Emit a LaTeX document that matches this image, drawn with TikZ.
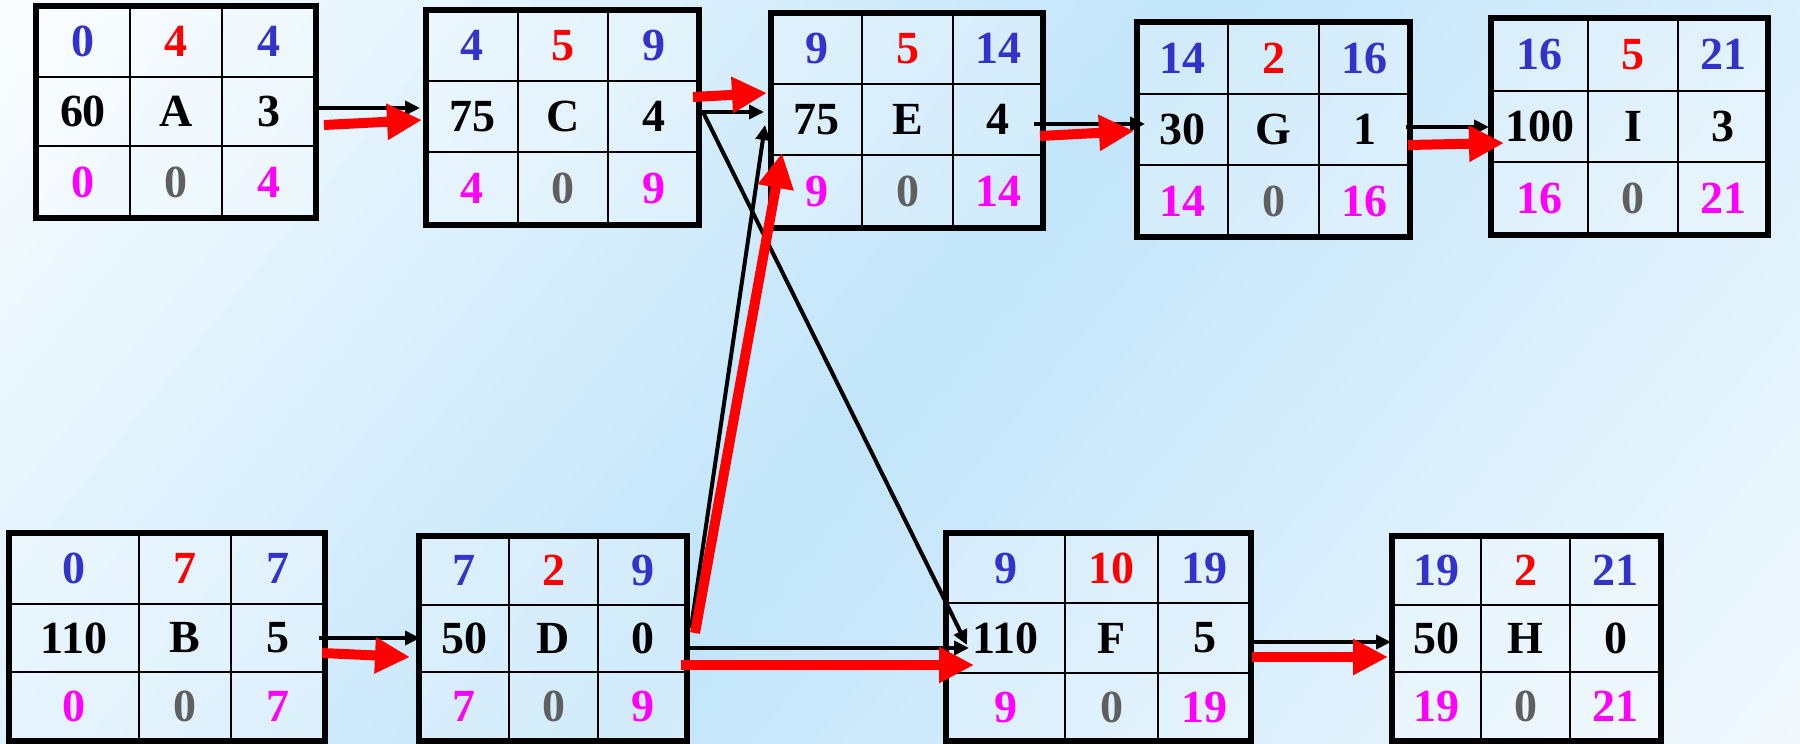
\documentclass[tikz,border=0pt]{standalone}
\usepackage{fontspec}
\setmainfont{Liberation Serif}
\usetikzlibrary{arrows.meta,calc,fit}
\definecolor{nblue}{HTML}{3333CC}
\definecolor{nred}{HTML}{FF0000}
\definecolor{nmag}{HTML}{FF00FF}
\definecolor{ngray}{HTML}{5F5F5F}
\definecolor{bgL}{HTML}{FAFDFF}
\definecolor{bgM}{HTML}{C2E5FA}
\definecolor{bgR}{HTML}{F2F9FE}
\tikzset{
 frame/.style={draw=black, line width=3pt, inner sep=0pt},
 gridln/.style={draw=black, line width=1.3pt},
 cellfill/.style={fill=white, fill opacity=0.25},
 num/.style={font=\fontsize{23}{25}\selectfont\bfseries, inner sep=0pt},
 blk/.style={draw=black, line width=2pt, -{Triangle[length=7.5pt,width=7pt]}},
 crit/.style={draw=nred, line width=5pt, -{Triangle[length=17.5pt,width=17pt]}},
}
\newcommand{\actbox}[9]{%
  \fill[cellfill] (#2,#6) rectangle (#5,#9);
  \draw[gridln] (#3,#6) -- (#3,#9) (#4,#6) -- (#4,#9) (#2,#7) -- (#5,#7) (#2,#8) -- (#5,#8);
  \coordinate (#1nw) at (#2,#6);
  \coordinate (#1se) at (#5,#9);
  \node[frame, fit=(#1nw)(#1se)] (#1) {};
  \pgfmathsetmacro\cxa{(#2+#3)/2}\pgfmathsetmacro\cxb{(#3+#4)/2}\pgfmathsetmacro\cxc{(#4+#5)/2}%
  \pgfmathsetmacro\rya{(#6+#7)/2}\pgfmathsetmacro\ryb{(#7+#8)/2}\pgfmathsetmacro\ryc{(#8+#9)/2}%
  \def\curbox{#1}%
}
\newcommand{\cells}[9]{%
  \node[num, text=nblue] (\curbox1) at (\cxa,\rya) {#1};
  \node[num, text=nred] (\curbox2) at (\cxb,\rya) {#2};
  \node[num, text=nblue] (\curbox3) at (\cxc,\rya) {#3};
  \node[num, text=black] (\curbox4) at (\cxa,\ryb) {#4};
  \node[num, text=black] (\curbox5) at (\cxb,\ryb) {#5};
  \node[num, text=black] (\curbox6) at (\cxc,\ryb) {#6};
  \node[num, text=nmag] (\curbox7) at (\cxa,\ryc) {#7};
  \node[num, text=ngray] (\curbox8) at (\cxb,\ryc) {#8};
  \node[num, text=nmag] (\curbox9) at (\cxc,\ryc) {#9};
}
\begin{document}
\begin{tikzpicture}[x=0.5pt,y=-0.5pt]
\useasboundingbox (0,0) rectangle (1800,744);
\begin{scope}
\clip (0,0) rectangle (1800,744);
\fill[bgL] (0,0) rectangle (1800,744);
\begin{scope}[rotate around={-39:(900,372)}]
\foreach \i in {0,...,79} {
  \pgfmathsetmacro\xa{-40+\i*23.5}
  \pgfmathtruncatemacro\p{100*(1-abs(2*(\i+0.5)/80-1))}
  \ifnum\i<40 \colorlet{stc}{bgM!\p!bgL}\else\colorlet{stc}{bgM!\p!bgR}\fi
  \fill[stc] (\xa,-560) rectangle ({\xa+24.5},1304);
}
\end{scope}
\end{scope}

\actbox{A}{36}{130}{222}{316}{6}{77}{146}{218}
\cells{0}{4}{4}{60}{A}{3}{0}{0}{4}
\actbox{C}{426}{518}{608}{699}{10}{81}{152}{225}
\cells{4}{5}{9}{75}{C}{4}{4}{0}{9}
\actbox{E}{771}{862}{953}{1043}{13}{84}{155}{228}
\cells{9}{5}{14}{75}{E}{4}{9}{0}{14}
\actbox{G}{1137}{1228}{1319}{1410}{22}{94}{165}{237}
\cells{14}{2}{16}{30}{G}{1}{14}{0}{16}
\actbox{I}{1491}{1588}{1678}{1768}{18}{91}{162}{235}
\cells{16}{5}{21}{100}{I}{3}{16}{0}{21}
\actbox{B}{9}{139}{231}{325}{533}{604}{672}{741}
\cells{0}{7}{7}{110}{B}{5}{0}{0}{7}
\actbox{D}{419}{509}{598}{687}{536}{605}{672}{741}
\cells{7}{2}{9}{50}{D}{0}{7}{0}{9}
\actbox{F}{946}{1065}{1158}{1251}{533}{603}{673}{741}
\cells{9}{10}{19}{110}{F}{5}{9}{0}{19}
\actbox{H}{1392}{1481}{1570}{1661}{536}{605}{672}{741}
\cells{19}{2}{21}{50}{H}{0}{19}{0}{21}

% black connectors
\draw[blk] ($(A.east)+(-5,-4)$) -- ($(C.west)+(-3,-9.5)$);
\draw[blk] ($(C.east)+(-5,-5.5)$) -- ($(E.west)+(-4,-8.5)$);
\draw[blk] ($(C.east)+(1,-5.5)$) -- ($(F.west)+(24,8)$);
\draw[blk] ($(D.east)+(1,-10.5)$) -- ($(E.west)+(-3,4.5)$);
\draw[blk] ($(D.east)+(-4,9.5)$) -- ($(F.west)+(26,11)$);
\draw[blk] ($(B.east)+(-9,1)$) -- ($(D.west)+(4,-0.5)$);
\draw[blk] ($(E.east)+(-12,3.5)$) -- ($(G.west)+(11,-5.5)$);
\draw[blk] ($(G.east)+(-7,-2.5)$) -- ($(I.west)+(1,0.5)$);
\draw[blk] ($(F.east)+(0,5)$) -- ($(H.west)+(2,3.5)$);

% critical path
\draw[crit] ($(A.east)+(5,13)$) -- ($(C.west)+(-1,2.5)$);
\draw[crit] ($(C.east)+(-9,-20.5)$) -- ($(E.west)+(-1,-27.5)$);
\draw[crit] ($(D.east)+(5,-5.5)$) -- ($(E.west)+(14,32.5)$);
\draw[crit] ($(D.east)+(-9,26.5)$) -- ($(F.west)+(31,28)$);
\draw[crit] ($(B.east)+(-6,16)$) -- ($(D.west)+(-6,18.5)$);
\draw[crit] ($(E.east)+(-6,15.5)$) -- ($(G.west)+(0,1.5)$);
\draw[crit] ($(G.east)+(-5,15.5)$) -- ($(I.west)+(16,16.5)$);
\draw[crit] ($(F.east)+(-2,20)$) -- ($(H.west)+(-1,18.5)$);
\end{tikzpicture}
\end{document}
